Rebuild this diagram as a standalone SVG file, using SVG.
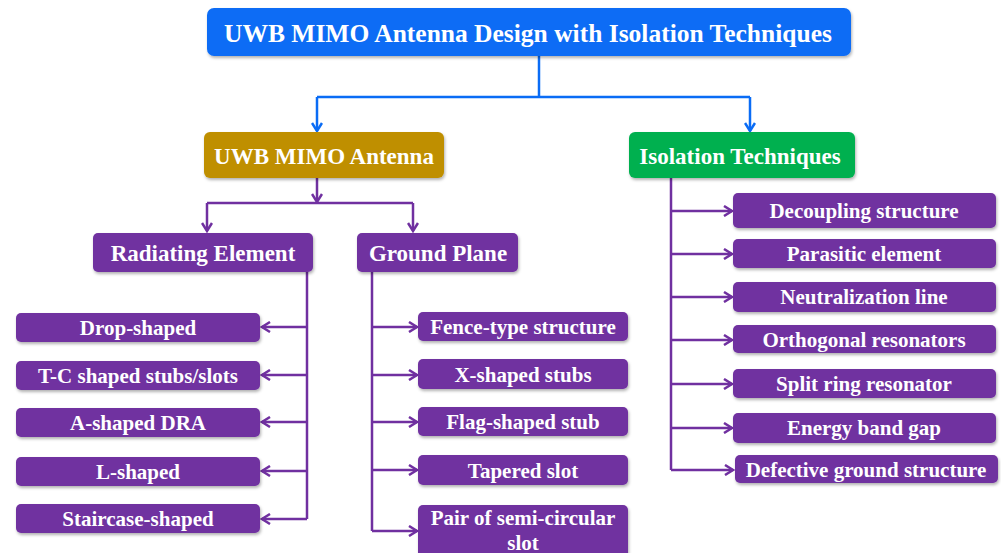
<svg xmlns="http://www.w3.org/2000/svg" width="1001" height="553" viewBox="0 0 1001 553">
<defs>
<filter id="sh" x="-10%" y="-20%" width="120%" height="150%"><feDropShadow dx="1" dy="2" stdDeviation="1.5" flood-color="#000" flood-opacity="0.3"/></filter>
<marker id="ab" viewBox="0 0 12 12" refX="10" refY="6" markerWidth="12" markerHeight="12" markerUnits="userSpaceOnUse" orient="auto"><polyline points="2,1 10,6 2,11" fill="none" stroke="#0A6CF5" stroke-width="2.5"/></marker>
<marker id="ap" viewBox="0 0 12 12" refX="10" refY="6" markerWidth="12" markerHeight="12" markerUnits="userSpaceOnUse" orient="auto"><polyline points="2,1 10,6 2,11" fill="none" stroke="#7030A0" stroke-width="2.5"/></marker>
</defs>
<style>
text{font-family:"Liberation Serif","Times New Roman",serif;font-weight:bold;fill:#fff;text-anchor:middle;dominant-baseline:central}
.t{font-size:25.5px}
.h{font-size:23px}
.l{font-size:21px}
.blue{fill:#0A6CF5}
.gold{fill:#BF8F00}
.green{fill:#00B050}
.pur{fill:#7030A0}
rect{filter:url(#sh)}
.cb{fill:none;stroke:#0A6CF5;stroke-width:2.5}
.cp{fill:none;stroke:#7030A0;stroke-width:2.5}
</style>
<rect width="1001" height="553" fill="#fff" style="filter:none"/>
<g id="connectors">
<path class="cb" d="M539 56 V97"/>
<path class="cb" d="M317 97 H750"/>
<path class="cb" d="M317 97 V131" marker-end="url(#ab)"/>
<path class="cb" d="M750 97 V131" marker-end="url(#ab)"/>
<path class="cp" d="M317 178 V202" marker-end="url(#ap)"/>
<path class="cp" d="M207 203 H413"/>
<path class="cp" d="M207 203 V231" marker-end="url(#ap)"/>
<path class="cp" d="M413 203 V231" marker-end="url(#ap)"/>
<path class="cp" d="M307 272 V519"/>
<path class="cp" d="M307 327 H262" marker-end="url(#ap)"/>
<path class="cp" d="M307 375 H262" marker-end="url(#ap)"/>
<path class="cp" d="M307 422 H262" marker-end="url(#ap)"/>
<path class="cp" d="M307 471 H262" marker-end="url(#ap)"/>
<path class="cp" d="M307 519 H262" marker-end="url(#ap)"/>
<path class="cp" d="M372 272 V531"/>
<path class="cp" d="M372 327 H417" marker-end="url(#ap)"/>
<path class="cp" d="M372 375 H417" marker-end="url(#ap)"/>
<path class="cp" d="M372 422 H417" marker-end="url(#ap)"/>
<path class="cp" d="M372 470 H417" marker-end="url(#ap)"/>
<path class="cp" d="M372 531 H417" marker-end="url(#ap)"/>
<path class="cp" d="M671 178 V470"/>
<path class="cp" d="M671 211 H732" marker-end="url(#ap)"/>
<path class="cp" d="M671 254 H732" marker-end="url(#ap)"/>
<path class="cp" d="M671 297 H732" marker-end="url(#ap)"/>
<path class="cp" d="M671 340 H732" marker-end="url(#ap)"/>
<path class="cp" d="M671 384 H732" marker-end="url(#ap)"/>
<path class="cp" d="M671 428 H732" marker-end="url(#ap)"/>
<path class="cp" d="M671 470 H733" marker-end="url(#ap)"/>
</g>
<g id="root"><rect class="blue" x="207" y="8" width="644" height="48" rx="7"/><text class="t" x="528" y="33">UWB MIMO Antenna Design with Isolation Techniques</text></g>
<g id="uwb"><rect class="gold" x="204" y="132" width="240" height="46" rx="6"/><text class="h" x="324" y="156">UWB MIMO Antenna</text></g>
<g id="iso"><rect class="green" x="629" y="132" width="226" height="46" rx="6"/><text class="h" x="740" y="156">Isolation Techniques</text></g>
<g id="rad"><rect class="pur" x="93" y="233" width="220" height="39" rx="5"/><text class="h" x="203" y="253">Radiating Element</text></g>
<g id="gnd"><rect class="pur" x="357" y="233" width="161" height="39" rx="5"/><text class="h" x="438" y="253">Ground Plane</text></g>
<g id="r1"><rect class="pur" x="16" y="313" width="244" height="29" rx="5"/><text class="l" x="138" y="328">Drop-shaped</text></g>
<g id="r2"><rect class="pur" x="16" y="361" width="244" height="29" rx="5"/><text class="l" x="138" y="376">T-C shaped stubs/slots</text></g>
<g id="r3"><rect class="pur" x="16" y="408" width="244" height="29" rx="5"/><text class="l" x="138" y="423">A-shaped DRA</text></g>
<g id="r4"><rect class="pur" x="16" y="457" width="244" height="29" rx="5"/><text class="l" x="138" y="472">L-shaped</text></g>
<g id="r5"><rect class="pur" x="16" y="504" width="244" height="29" rx="5"/><text class="l" x="138" y="519">Staircase-shaped</text></g>
<g id="g1"><rect class="pur" x="418" y="312" width="210" height="29" rx="5"/><text class="l" x="523" y="327">Fence-type structure</text></g>
<g id="g2"><rect class="pur" x="418" y="359" width="210" height="30" rx="5"/><text class="l" x="523" y="375">X-shaped stubs</text></g>
<g id="g3"><rect class="pur" x="418" y="407" width="210" height="29" rx="5"/><text class="l" x="523" y="422">Flag-shaped stub</text></g>
<g id="g4"><rect class="pur" x="418" y="455" width="210" height="30" rx="5"/><text class="l" x="523" y="471">Tapered slot</text></g>
<g id="g5"><rect class="pur" x="418" y="505" width="210" height="56" rx="5"/><text class="l" x="523" y="518">Pair of semi-circular</text><text class="l" x="523" y="543">slot</text></g>
<g id="i1"><rect class="pur" x="733" y="193" width="263" height="35" rx="5"/><text class="l" x="864" y="211">Decoupling structure</text></g>
<g id="i2"><rect class="pur" x="733" y="239" width="263" height="29" rx="5"/><text class="l" x="864" y="254">Parasitic element</text></g>
<g id="i3"><rect class="pur" x="733" y="282" width="263" height="30" rx="5"/><text class="l" x="864" y="297">Neutralization line</text></g>
<g id="i4"><rect class="pur" x="733" y="325" width="263" height="28" rx="5"/><text class="l" x="864" y="340">Orthogonal resonators</text></g>
<g id="i5"><rect class="pur" x="733" y="369" width="263" height="29" rx="5"/><text class="l" x="864" y="384">Split ring resonator</text></g>
<g id="i6"><rect class="pur" x="733" y="413" width="263" height="30" rx="5"/><text class="l" x="864" y="428">Energy band gap</text></g>
<g id="i7"><rect class="pur" x="735" y="455" width="263" height="28" rx="5"/><text class="l" x="866" y="470">Defective ground structure</text></g>
</svg>
